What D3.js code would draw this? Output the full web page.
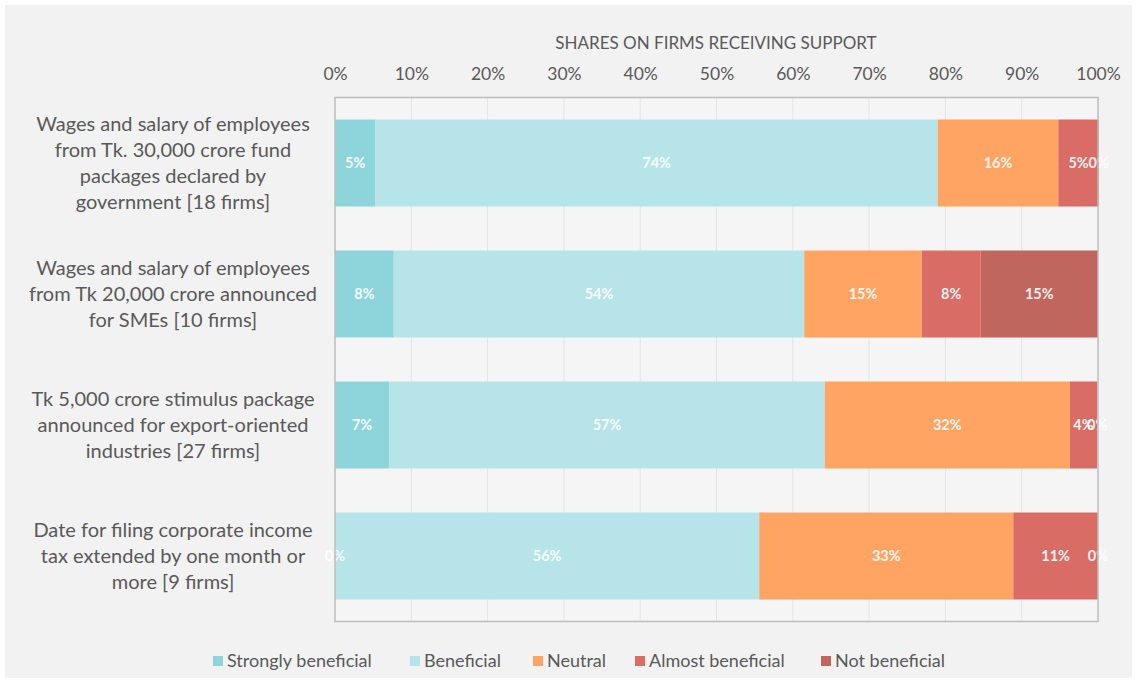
<!DOCTYPE html>
<html>
<head>
<meta charset="utf-8">
<script src="https://cdn.jsdelivr.net/npm/d3@7"></script>
<style>
  body { margin: 0; background: #ffffff; }
  text { font-family: Lato, "Open Sans", sans-serif; }
</style>
</head>
<body>
<svg id="chart" width="1137" height="683"></svg>
<script>
// categories (label lines)
const categories = [
  ["Wages and salary of employees", "from Tk. 30,000 crore fund", "packages declared by", "government [18 firms]"],
  ["Wages and salary of employees", "from Tk 20,000 crore announced", "for SMEs [10 firms]"],
  ["Tk 5,000 crore stimulus package", "announced for export-oriented", "industries [27 firms]"],
  ["Date for filing corporate income", "tax extended by one month or", "more [9 firms]"]
];
const seriesNames = ["Strongly beneficial", "Beneficial", "Neutral", "Almost beneficial", "Not beneficial"];
const seriesColors = ["#8ed4db", "#b6e4e8", "#ffa463", "#d96c64", "#c1665e"];
// shares per category, in series order
const strongly = [5.3, 7.7, 7.1, 0];
const beneficial = [73.7, 53.8, 57.1, 55.6];
const neutral = [15.8, 15.4, 32.1, 33.3];
const almost = [5.3, 7.7, 3.6, 11.1];
const notBen = [0, 15.4, 0, 0];
const ticks = [0, 10, 20, 30, 40, 50, 60, 70, 80, 90, 100];

const values = [strongly, beneficial, neutral, almost, notBen];
const rows = categories.map((c, i) => {
  const r = { idx: i };
  seriesNames.forEach((s, j) => r[s] = values[j][i]);
  return r;
});

const svg = d3.select("#chart");
svg.append("rect").attr("x", 5).attr("y", 5).attr("width", 1127).attr("height", 673).attr("fill", "#f2f2f2");

const pL = 335, pR = 1098, pT = 97.5, pB = 621.5;
const x = d3.scaleLinear().domain([0, 100]).range([pL, pR]);
const y = d3.scaleBand().domain(d3.range(categories.length)).range([pT, pB]).paddingInner(0.336).paddingOuter(0.168);

// plot background + gridlines
svg.append("rect").attr("x", pL).attr("y", pT).attr("width", pR - pL).attr("height", pB - pT).attr("fill", "#f5f5f5");
svg.append("g").selectAll("line").data(ticks.slice(1, -1)).join("line")
  .attr("x1", d => x(d)).attr("x2", d => x(d))
  .attr("y1", pT).attr("y2", pB)
  .attr("stroke", "#e4e4e4").attr("stroke-width", 1);

// axis on top
const axis = svg.append("g").attr("transform", `translate(0,${pT})`)
  .call(d3.axisTop(x).tickValues(ticks).tickFormat(d => d + "%").tickSize(0).tickPadding(18));
axis.select(".domain").remove();
axis.selectAll("text").attr("fill", "#595959").style("font-size", "17.5px").style("font-family", "Lato, sans-serif");

svg.append("text").attr("x", 716).attr("y", 49).attr("text-anchor", "middle")
  .attr("fill", "#595959").style("font-size", "17px").text("SHARES ON FIRMS RECEIVING SUPPORT");

// stacked bars
const stack = d3.stack().keys(seriesNames)(rows);
const layers = svg.append("g").selectAll("g").data(stack).join("g")
  .attr("fill", (d, i) => seriesColors[i]);
layers.selectAll("rect").data(d => d).join("rect")
  .attr("x", d => x(d[0])).attr("width", d => x(d[1]) - x(d[0]))
  .attr("y", d => y(d.data.idx)).attr("height", y.bandwidth());

// value labels
const labelG = svg.append("g");
stack.forEach(layer => {
  layer.forEach(d => {
    labelG.append("text")
      .attr("x", x((d[0] + d[1]) / 2))
      .attr("y", y(d.data.idx) + y.bandwidth() / 2)
      .attr("dy", "0.35em").attr("text-anchor", "middle")
      .attr("fill", "#ffffff").style("font-size", "14.5px").style("font-weight", "bold")
      .style("opacity", 0.9)
      .text(Math.round(d[1] - d[0]) + "%");
  });
});

// frame
svg.append("rect").attr("x", pL).attr("y", pT).attr("width", pR - pL).attr("height", pB - pT)
  .attr("fill", "none").attr("stroke", "#bdbdbd").attr("stroke-width", 1.5);

// category labels
categories.forEach((lines, i) => {
  const cy = y(i) + y.bandwidth() / 2;
  const t = svg.append("text").attr("text-anchor", "middle").attr("fill", "#595959").style("font-size", "20px");
  lines.forEach((ln, k) => {
    t.append("tspan").attr("x", 173)
      .attr("y", cy + (k - (lines.length - 1) / 2) * 26).attr("dy", "0.35em").text(ln);
  });
});

// legend
const legendX = [213, 410, 533, 635, 821];
const lg = svg.append("g").selectAll("g").data(seriesNames).join("g")
  .attr("transform", (d, i) => `translate(${legendX[i]},661)`);
lg.append("rect").attr("x", 0).attr("y", -5).attr("width", 10).attr("height", 10).attr("fill", (d, i) => seriesColors[i]);
lg.append("text").attr("x", 14).attr("dy", "0.35em").attr("fill", "#595959").style("font-size", "18px").text(d => d);
</script>
</body>
</html>
